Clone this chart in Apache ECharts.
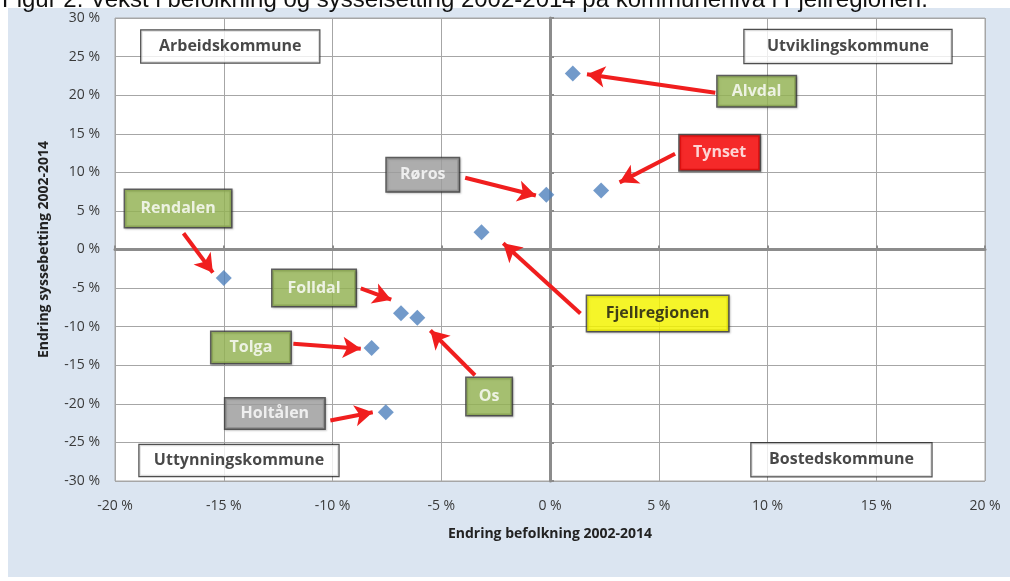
<!DOCTYPE html>
<html><head><meta charset="utf-8">
<script src="https://cdn.jsdelivr.net/npm/echarts@6/dist/echarts.min.js"></script>
<style>html,body{margin:0;padding:0;background:#fff}#c{width:1010px;height:581px}</style>
</head><body><div id="c"></div>
<script>
// Data: population change (x, %) and employment change (y, %) 2002-2014
const names = ['Alvdal','Tynset','Røros','Fjellregionen','Rendalen','Folldal','Os','Tolga','Holtålen'];
const popChange = [1.05, 2.35, -0.17, -3.15, -15.0, -6.85, -6.1, -8.2, -7.55];
const empChange = [22.8, 7.65, 7.1, 2.25, -3.7, -8.25, -8.85, -12.75, -21.1];
const xTicks = [-20,-15,-10,-5,0,5,10,15,20];
const yTicks = [-30,-25,-20,-15,-10,-5,0,5,10,15,20,25,30];

// Annotation layout (label anchor in data units, arrow start/end in data units)
const annoLabels = [
  {t:'Alvdal', at:[9.5,20.5], w:81, h:33, bg:'#9bbb59', fg:'#fff', from:[7.6,20.3], to:[1.7,22.7]},
  {t:'Tynset', at:[7.8,12.55], w:83, h:38, bg:'#ff0000', fg:'#fff', from:[5.75,12.4], to:[3.2,8.7]},
  {t:'Røros', at:[-5.85,9.7], w:75, h:36, bg:'#a5a5a5', fg:'#fff', from:[-3.9,9.3], to:[-0.65,7.0]},
  {t:'Fjellregionen', at:[4.95,-8.3], w:144, h:38, bg:'#ffff00', fg:'#111', from:[1.4,-8.3], to:[-2.15,0.8]},
  {t:'Rendalen', at:[-17.1,5.3], w:109, h:40, bg:'#9bbb59', fg:'#fff', from:[-16.85,2.1], to:[-15.5,-3.0]},
  {t:'Folldal', at:[-10.85,-5.0], w:86, h:39, bg:'#9bbb59', fg:'#fff', from:[-8.7,-5.05], to:[-7.3,-6.5]},
  {t:'Os', at:[-2.8,-19.05], w:48, h:40, bg:'#9bbb59', fg:'#fff', from:[-3.45,-16.3], to:[-5.5,-10.5]},
  {t:'Tolga', at:[-13.75,-12.7], w:82, h:34, bg:'#9bbb59', fg:'#fff', from:[-11.8,-12.2], to:[-8.7,-12.85]},
  {t:'Holtålen', at:[-12.65,-21.25], w:102, h:33, bg:'#a5a5a5', fg:'#fff', from:[-10.1,-22.15], to:[-8.15,-21.1]}
];
const quadLabels = [
  {t:'Arbeidskommune', at:[-14.7,26.3], w:180, h:34},
  {t:'Utviklingskommune', at:[13.7,26.3], w:209, h:35},
  {t:'Uttynningskommune', at:[-14.3,-27.35], w:201, h:33},
  {t:'Bostedskommune', at:[13.4,-27.25], w:182, h:35}
];

const FONT = '"Open Sans", "Liberation Sans", sans-serif';
const chart = echarts.init(document.getElementById('c'));

const annoData = annoLabels.map(a => ({
  value: a.at,
  label: {show:true, position:'inside', formatter:a.t, width:a.w-3, height:a.h-3, lineHeight:a.h-3,
    align:'center', verticalAlign:'middle', backgroundColor:a.bg, borderColor:'#3b3b3b', borderWidth:1.5,
    color:a.fg, fontWeight:'bold', fontSize:16, fontFamily:FONT,
    shadowColor:'rgba(0,0,0,0.25)', shadowOffsetX:1, shadowOffsetY:1, shadowBlur:2}
}));
const quadData = quadLabels.map(a => ({
  value: a.at,
  label: {show:true, position:'inside', formatter:a.t, width:a.w-2, height:a.h-2, lineHeight:a.h-2,
    align:'center', verticalAlign:'middle', backgroundColor:'#fff', borderColor:'#222', borderWidth:1.2,
    color:'#1a1a1a', fontWeight:'bold', fontSize:16, fontFamily:FONT}
}));
const arrowData = annoLabels.map(a => [{coord:a.from},{coord:a.to}]);

chart.setOption({
  backgroundColor:'#fff',
  animation:false,
  graphic:[
    {type:'text', left:2, top:-12, z:0, style:{text:'Figur 2. Vekst i befolkning og sysselsetting 2002-2014 på kommunenivå i Fjellregionen.', font:'24px "Liberation Sans", Arial, sans-serif', fill:'#111'}},
    {type:'rect', shape:{x:8,y:8,width:1002,height:569}, style:{fill:'#dbe5f1'}, z:-10, silent:true}
  ],
  grid:{left:115, right:25, top:18, bottom:100, show:true, backgroundColor:'#fff', borderColor:'#a6a6a6', borderWidth:1},
  xAxis:[
    {type:'value', min:xTicks[0], max:xTicks[xTicks.length-1], interval:5, position:'bottom',
     axisLine:{show:false}, axisTick:{show:false},
     axisLabel:{margin:18, color:'#3a3a3a', fontSize:14, fontFamily:FONT, formatter:v=>v+' %'},
     splitLine:{show:true, lineStyle:{color:'#a6a6a6', width:1}},
     name:'Endring befolkning 2002-2014', nameLocation:'middle', nameGap:46,
     nameTextStyle:{fontWeight:'bold', fontSize:14, color:'#222', fontFamily:FONT}},
    {type:'value', min:xTicks[0], max:xTicks[xTicks.length-1], interval:5, position:'top',
     axisLine:{show:true, onZero:true, lineStyle:{color:'#8c8c8c', width:3}},
     axisTick:{show:true, length:4, lineStyle:{color:'#8c8c8c', width:2}},
     axisLabel:{show:false}, splitLine:{show:false}}
  ],
  yAxis:[
    {type:'value', min:yTicks[0], max:yTicks[yTicks.length-1], interval:5, position:'left',
     axisLine:{show:false}, axisTick:{show:false},
     axisLabel:{margin:15, color:'#3a3a3a', fontSize:14, fontFamily:FONT, formatter:v=>v+' %'},
     splitLine:{show:true, lineStyle:{color:'#a6a6a6', width:1}},
     name:'Endring syssebetting 2002-2014', nameLocation:'middle', nameGap:64,
     nameTextStyle:{fontWeight:'bold', fontSize:14, color:'#222', fontFamily:FONT}},
    {type:'value', min:yTicks[0], max:yTicks[yTicks.length-1], interval:5, position:'right',
     axisLine:{show:true, onZero:true, lineStyle:{color:'#8c8c8c', width:3}},
     axisTick:{show:true, length:4, lineStyle:{color:'#8c8c8c', width:2}},
     axisLabel:{show:false}, splitLine:{show:false}}
  ],
  series:[
    {type:'scatter', name:'Kommuner', symbol:'diamond', symbolSize:16, z:5,
     itemStyle:{color:'#4f81bd'},
     data: names.map((n,i)=>({name:n, value:[popChange[i], empChange[i]]}))},
    {type:'scatter', name:'anno', symbolSize:0, z:6, silent:true,
     data: annoData.concat(quadData),
     markLine:{silent:true, symbol:['none','arrow'], symbolSize:[16,18], label:{show:false},
       lineStyle:{color:'#f01e1e', width:4, type:'solid'}, emphasis:{disabled:true},
       data: arrowData}}
  ]
});
</script></body></html>
